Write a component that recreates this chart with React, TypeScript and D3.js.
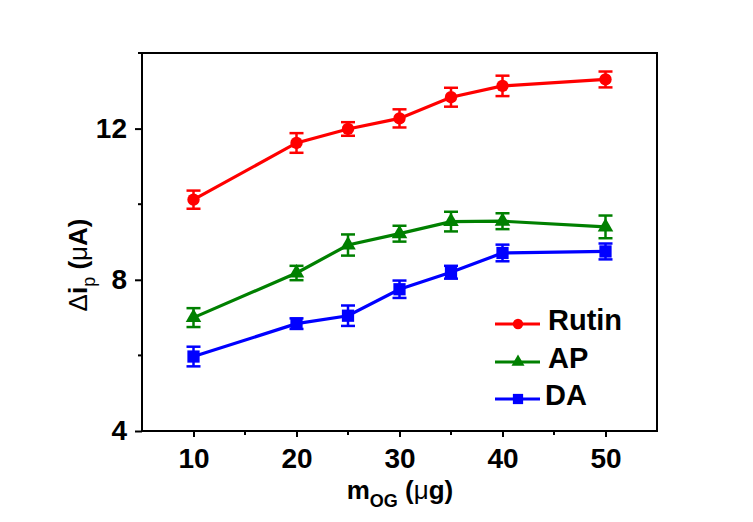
import * as d3 from "d3";
import { useEffect, useRef } from "react";

// x values (mass of OG, ug)
const masses = [10, 20, 25, 30, 35, 40, 50];

const rutinVals = [10.12, 11.62, 11.99, 12.27, 12.83, 13.13, 13.3];
const rutinErr = [0.24, 0.26, 0.18, 0.24, 0.25, 0.27, 0.21];

const apVals = [7.0, 8.18, 8.92, 9.22, 9.54, 9.55, 9.4];
const apErr = [0.25, 0.19, 0.28, 0.21, 0.26, 0.21, 0.3];

const daVals = [5.97, 6.84, 7.05, 7.75, 8.2, 8.71, 8.75];
const daErr = [0.26, 0.14, 0.27, 0.23, 0.17, 0.22, 0.21];

const xMajor = [10, 20, 30, 40, 50];
const xMinor = [15, 25, 35, 45];
const yMajor = [4, 8, 12];
const yMinor = [6, 10, 14];

const seriesNames = ["Rutin", "AP", "DA"];

function App() {
    const svgRef = useRef(null);

    useEffect(() => {
        const svg = d3.select(svgRef.current);
        svg.selectAll("*").remove();

        const width = 753;
        const height = 522;
        const margin = { top: 53, right: 96, bottom: 91, left: 142 };

        const x = d3.scaleLinear().domain([5, 55]).range([margin.left, width - margin.right]);
        const y = d3.scaleLinear().domain([4, 14]).range([height - margin.bottom, margin.top]);

        const font = "Arial, 'Liberation Sans', sans-serif";

        const series = [
            { name: seriesNames[0], vals: rutinVals, err: rutinErr, color: "#ff0000", shape: "circle" },
            { name: seriesNames[1], vals: apVals, err: apErr, color: "#008000", shape: "triangle" },
            { name: seriesNames[2], vals: daVals, err: daErr, color: "#0000ff", shape: "square" },
        ];

        const symbolFor = (shape) =>
            shape === "circle" ? d3.symbolCircle : shape === "triangle" ? d3.symbolTriangle : d3.symbolSquare;
        const sizeFor = (shape) => (shape === "circle" ? 120 : shape === "triangle" ? 105 : 150);

        // frame
        svg.append("rect")
            .attr("x", x(5))
            .attr("y", y(14))
            .attr("width", x(55) - x(5))
            .attr("height", y(4) - y(14))
            .attr("fill", "none")
            .attr("stroke", "#000")
            .attr("stroke-width", 2);

        // x axis
        const xAxis = svg.append("g").attr("transform", `translate(0, ${y(4)})`);
        xAxis.call(d3.axisBottom(x).tickValues(xMajor).tickSize(6).tickSizeOuter(0).tickPadding(11));
        xAxis.select(".domain").remove();
        xAxis.selectAll(".tick line").attr("stroke-width", 2);
        xAxis.selectAll(".tick text")
            .style("font-family", font)
            .style("font-size", "28px")
            .style("font-weight", "bold");
        xAxis.selectAll(".minor")
            .data(xMinor)
            .enter()
            .append("line")
            .attr("x1", d => x(d))
            .attr("x2", d => x(d))
            .attr("y1", 0)
            .attr("y2", 4)
            .attr("stroke", "#000")
            .attr("stroke-width", 2);

        // y axis
        const yAxis = svg.append("g").attr("transform", `translate(${x(5)}, 0)`);
        yAxis.call(d3.axisLeft(y).tickValues(yMajor).tickSize(7).tickSizeOuter(0).tickPadding(8));
        yAxis.select(".domain").remove();
        yAxis.selectAll(".tick line").attr("stroke-width", 2);
        yAxis.selectAll(".tick text")
            .style("font-family", font)
            .style("font-size", "28px")
            .style("font-weight", "bold");
        yAxis.selectAll(".minor")
            .data(yMinor)
            .enter()
            .append("line")
            .attr("x1", 0)
            .attr("x2", -4)
            .attr("y1", d => y(d))
            .attr("y2", d => y(d))
            .attr("stroke", "#000")
            .attr("stroke-width", 2);

        // series
        series.forEach(s => {
            const g = svg.append("g");
            const line = d3.line().x((d, i) => x(masses[i])).y(d => y(d));
            g.append("path")
                .attr("d", line(s.vals))
                .attr("fill", "none")
                .attr("stroke", s.color)
                .attr("stroke-width", 3.2);

            // error bars
            s.vals.forEach((v, i) => {
                const cx = x(masses[i]);
                const lo = y(v - s.err[i]);
                const hi = y(v + s.err[i]);
                g.append("line")
                    .attr("x1", cx).attr("x2", cx)
                    .attr("y1", lo).attr("y2", hi)
                    .attr("stroke", s.color).attr("stroke-width", 2.5);
                [lo, hi].forEach(yy => {
                    g.append("line")
                        .attr("x1", cx - 7).attr("x2", cx + 7)
                        .attr("y1", yy).attr("y2", yy)
                        .attr("stroke", s.color).attr("stroke-width", 2.5);
                });
            });

            g.selectAll("path.pt")
                .data(s.vals)
                .enter()
                .append("path")
                .attr("class", "pt")
                .attr("transform", (d, i) => `translate(${x(masses[i])}, ${y(d)})`)
                .attr("d", d3.symbol().type(symbolFor(s.shape)).size(sizeFor(s.shape))())
                .attr("fill", s.color);
        });

        // legend
        const legendY = [324, 362, 399];
        const legendTextX = [53, 53, 50];
        series.forEach((s, i) => {
            const lg = svg.append("g").attr("transform", `translate(495, ${legendY[i]})`);
            lg.append("line")
                .attr("x1", 0).attr("x2", 45)
                .attr("stroke", s.color).attr("stroke-width", 3);
            lg.append("path")
                .attr("transform", "translate(23, 0)")
                .attr("d", d3.symbol().type(symbolFor(s.shape)).size(sizeFor(s.shape) * 0.7)())
                .attr("fill", s.color);
            lg.append("text")
                .attr("x", legendTextX[i])
                .attr("y", 6)
                .style("font-family", font)
                .style("font-size", "29px")
                .style("font-weight", "bold")
                .text(s.name);
        });

        // x label
        const xl = svg.append("text")
            .attr("x", 400)
            .attr("y", 499)
            .attr("text-anchor", "middle")
            .style("font-family", font)
            .style("font-size", "26px")
            .style("font-weight", "bold");
        xl.append("tspan").text("m");
        xl.append("tspan").attr("dy", 8).style("font-size", "18px").text("OG");
        xl.append("tspan").attr("dy", -8).text(" (");
        xl.append("tspan").style("font-weight", "normal").text("μ");
        xl.append("tspan").text("g)");

        // y label
        const yl = svg.append("text")
            .attr("transform", `translate(87, 265) rotate(-90)`)
            .attr("text-anchor", "middle")
            .style("font-family", font)
            .style("font-size", "26px")
            .style("font-weight", "bold");
        yl.append("tspan").style("font-weight", "normal").text("Δ");
        yl.append("tspan").text("i");
        yl.append("tspan").attr("dy", 8).style("font-size", "18px").style("font-weight", "normal").text("p");
        yl.append("tspan").attr("dy", -8).text(" (");
        yl.append("tspan").style("font-weight", "normal").text("μ");
        yl.append("tspan").text("A)");
    }, []);

    return <svg ref={svgRef} width={753} height={522} style={{ position: "absolute", left: 0, top: 0, background: "#fff" }} />;
}

export default App;
